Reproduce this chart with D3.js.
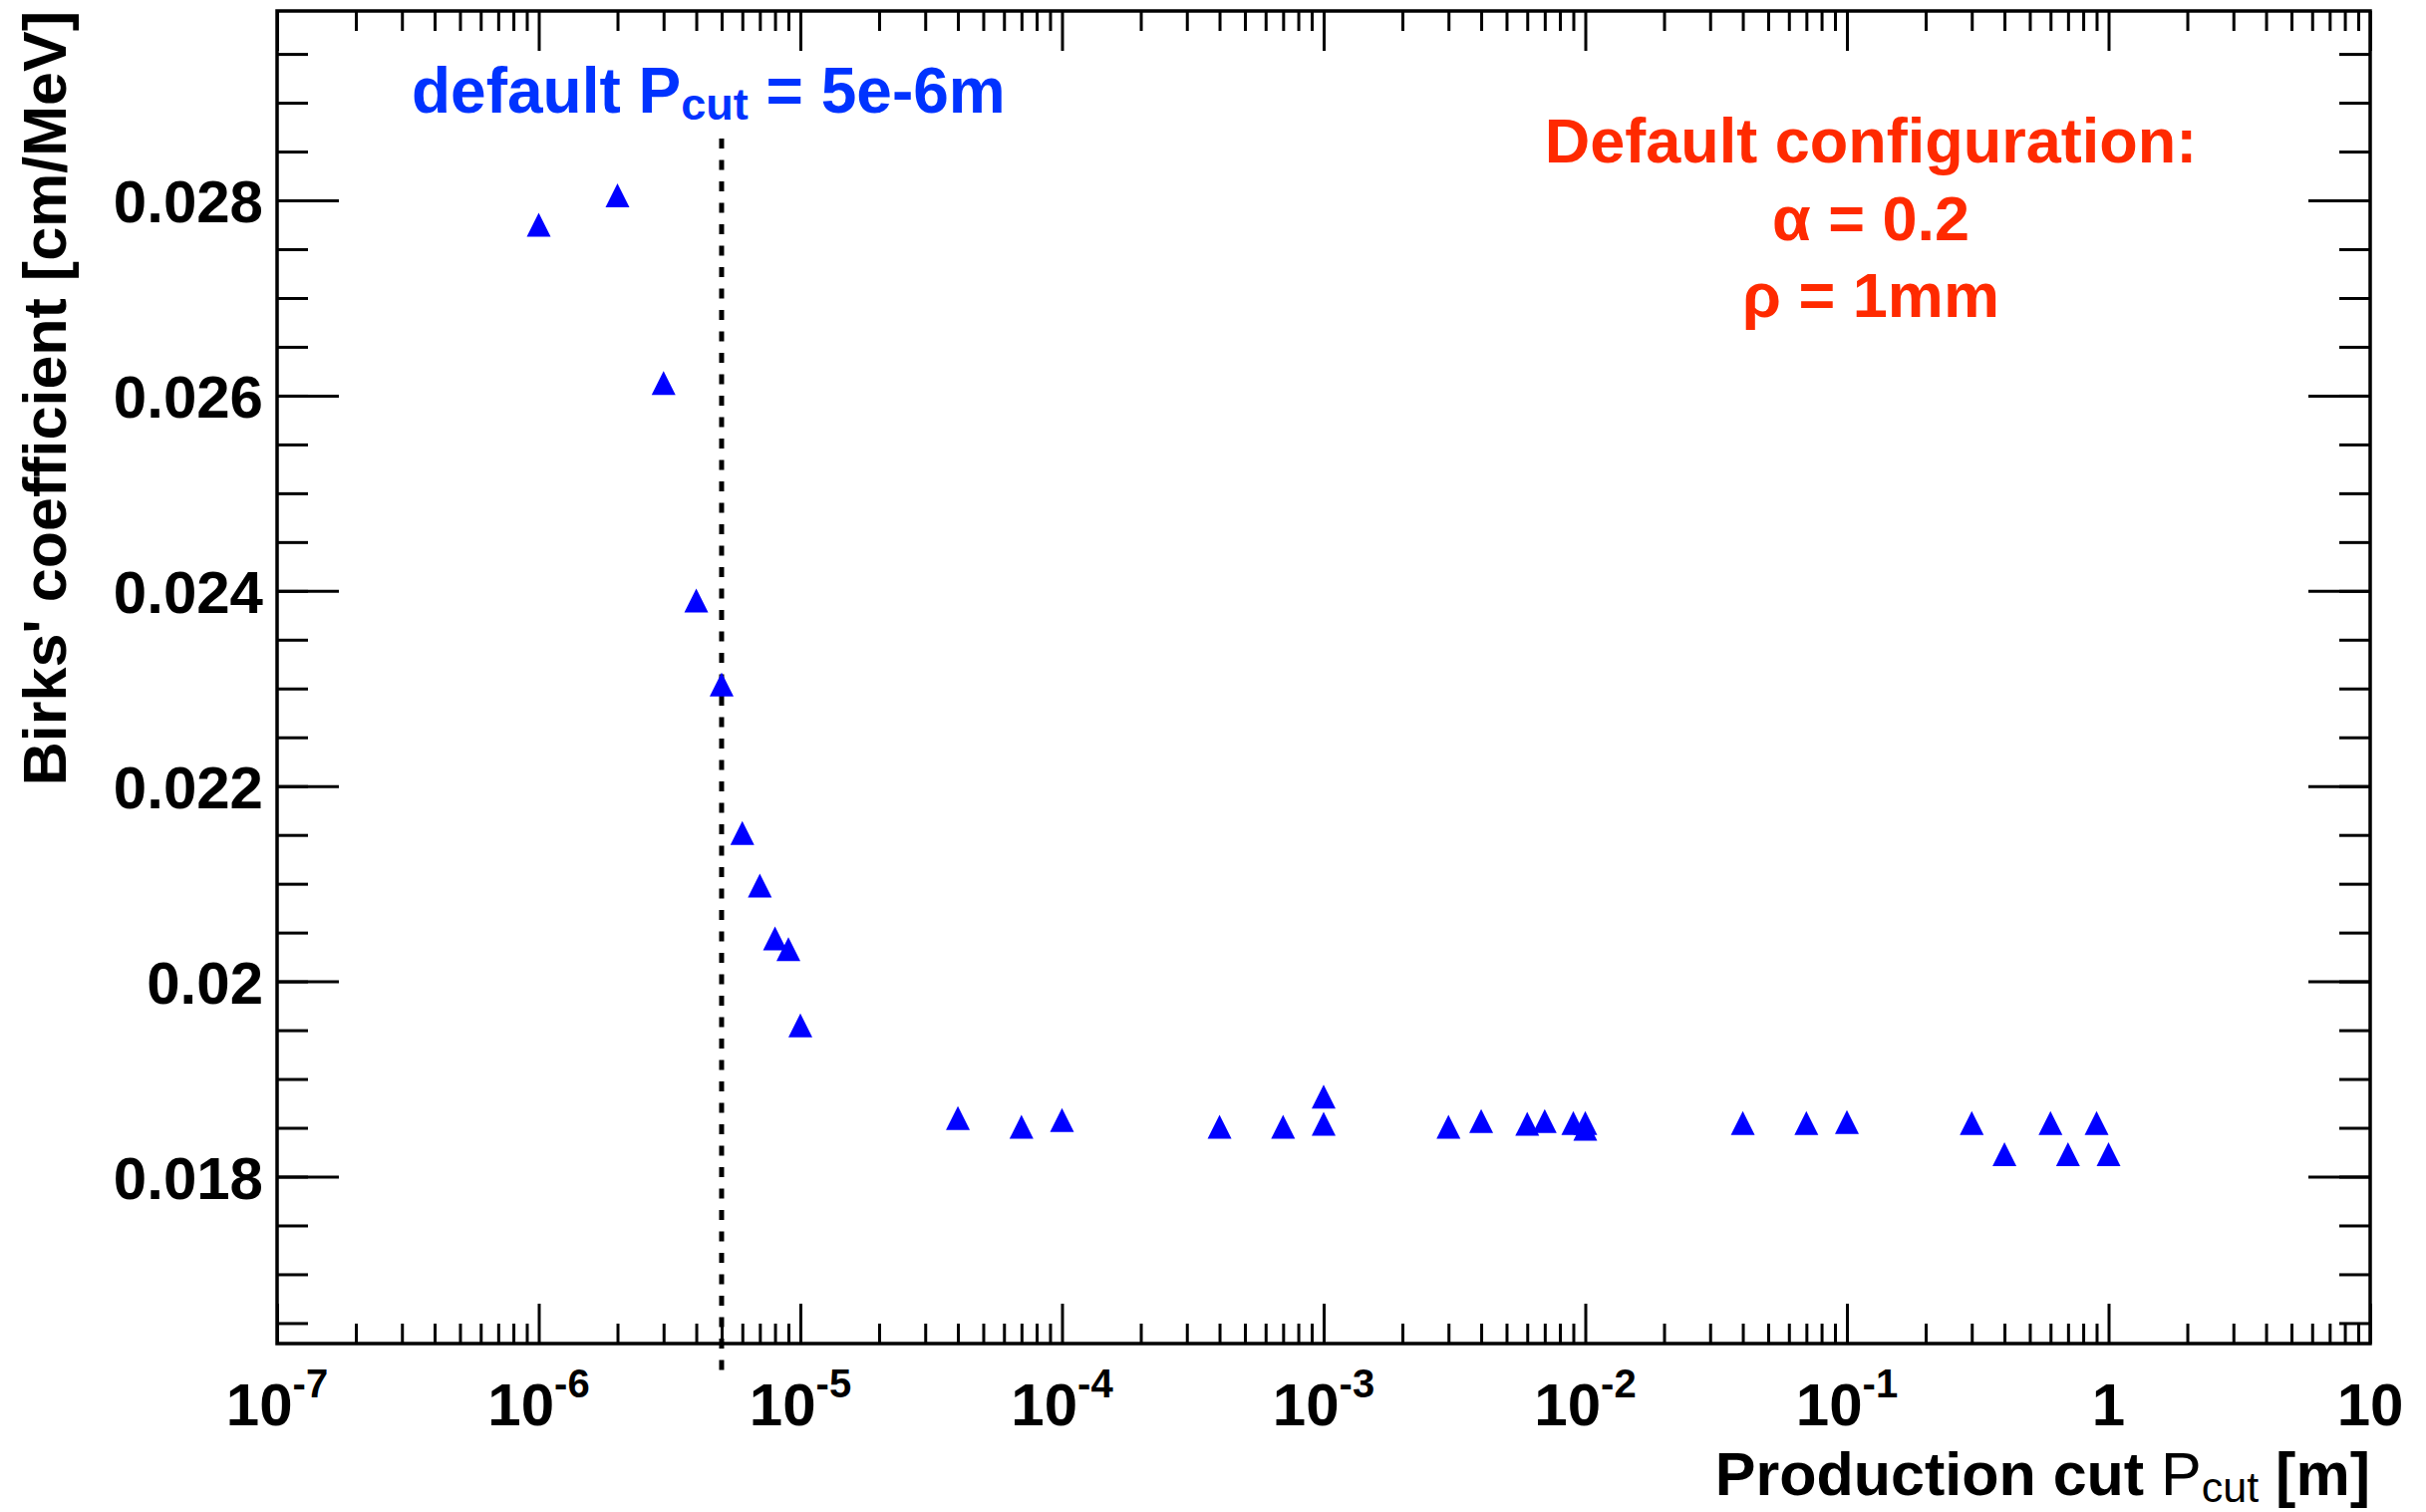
<!DOCTYPE html>
<html>
<head>
<meta charset="utf-8">
<script src="https://cdn.jsdelivr.net/npm/d3@7"></script>
<style>
  html, body { margin: 0; padding: 0; background: #fff; }
  svg text { font-family: "Liberation Sans", Arial, Helvetica, sans-serif; }
</style>
</head>
<body>
<div id="chart"></div>
<script>
const WIDTH = 2434;
const HEIGHT = 1517;

// frame of the pad
const LEFT = 278, RIGHT = 2378, TOP = 11, BOTTOM = 1348;

// data: production cut [m] vs Birks' coefficient [cm/MeV]
const cutValues = [
  1e-6, 2e-6, 3e-6, 4e-6, 5e-6, 6e-6, 7e-6, 8e-6, 9e-6, 1e-5,
  4e-5, 7e-5, 1e-4, 4e-4, 7e-4, 1e-3, 1e-3,
  3e-3, 4e-3, 6e-3, 7e-3, 9e-3, 1e-2, 1e-2,
  4e-2, 7e-2, 1e-1, 3e-1, 4e-1, 6e-1, 7e-1, 9e-1, 1
];
const birksValues = [
  0.02775, 0.02805, 0.02613, 0.02390, 0.02304, 0.02152, 0.02098, 0.02044, 0.02033, 0.01955,
  0.01860, 0.01851, 0.01858, 0.01851, 0.01851, 0.01882, 0.01854,
  0.01851, 0.01857, 0.01854, 0.01857, 0.01855, 0.01855, 0.01849,
  0.01855, 0.01855, 0.01856, 0.01855, 0.01823, 0.01855, 0.01823, 0.01855, 0.01823
];

const DEFAULT_CUT = 5e-6;

// axes
const XDOMAIN = [1e-7, 10];
const YDOMAIN = [0.01629, 0.02994];

const xMajorTicks = [1e-7, 1e-6, 1e-5, 1e-4, 1e-3, 1e-2, 1e-1, 1, 10];
const xTickBase   = ["10", "10", "10", "10", "10", "10", "10", "1", "10"];
const xTickExp    = ["-7", "-6", "-5", "-4", "-3", "-2", "-1", "", ""];

const yMajorTicks = [0.018, 0.020, 0.022, 0.024, 0.026, 0.028];
const yTickLabels = ["0.018", "0.02", "0.022", "0.024", "0.026", "0.028"];

const configLines = ["Default configuration:", "\u03b1 = 0.2", "\u03c1 = 1mm"];

const xMinorTicks = [];
for (let d = -7; d <= 0; d++) {
  for (let k = 2; k <= 9; k++) xMinorTicks.push(k * Math.pow(10, d));
}
const yMinorTicks = d3.range(33, 60).map(i => i * 0.0005);

const svg = d3.select("#chart").append("svg")
  .attr("width", WIDTH)
  .attr("height", HEIGHT);

svg.append("rect")
  .attr("width", WIDTH)
  .attr("height", HEIGHT)
  .attr("fill", "#fff");

const x = d3.scaleLog().domain(XDOMAIN).range([LEFT, RIGHT]);
const y = d3.scaleLinear().domain(YDOMAIN).range([BOTTOM, TOP]);

function ticks(axis, values, size, tx, ty) {
  svg.append("g")
    .attr("transform", "translate(" + tx + "," + ty + ")")
    .call(axis.tickValues(values).tickSizeInner(size).tickSizeOuter(0).tickFormat(""))
    .call(g => g.select(".domain").remove())
    .call(g => g.selectAll("line").attr("stroke", "#000").attr("stroke-width", 3));
}

// ticks on all four sides, pointing inside
ticks(d3.axisBottom(x), xMinorTicks, -20, 0, BOTTOM);
ticks(d3.axisBottom(x), xMajorTicks, -40, 0, BOTTOM);
ticks(d3.axisTop(x), xMinorTicks, -20, 0, TOP);
ticks(d3.axisTop(x), xMajorTicks, -40, 0, TOP);
ticks(d3.axisLeft(y), yMinorTicks, -31, LEFT, 0);
ticks(d3.axisLeft(y), yMajorTicks, -62, LEFT, 0);
ticks(d3.axisRight(y), yMinorTicks, -31, RIGHT, 0);
ticks(d3.axisRight(y), yMajorTicks, -62, RIGHT, 0);

// frame
svg.append("rect")
  .attr("x", LEFT)
  .attr("y", TOP)
  .attr("width", RIGHT - LEFT)
  .attr("height", BOTTOM - TOP)
  .attr("fill", "none")
  .attr("stroke", "#000")
  .attr("stroke-width", 3.5);

// x tick labels 10^n
const xl = svg.append("g").selectAll("text")
  .data(xMajorTicks)
  .join("text")
  .attr("x", d => x(d))
  .attr("y", 1430)
  .attr("text-anchor", "middle")
  .style("font-size", "60px")
  .style("font-weight", "bold");
xl.append("tspan").text((d, i) => xTickBase[i]);
xl.append("tspan")
  .attr("dy", -28)
  .style("font-size", "40px")
  .text((d, i) => xTickExp[i]);

// y tick labels
svg.append("g").selectAll("text")
  .data(yMajorTicks)
  .join("text")
  .attr("x", 264)
  .attr("y", d => y(d) + 22)
  .attr("text-anchor", "end")
  .style("font-size", "60px")
  .style("font-weight", "bold")
  .text((d, i) => yTickLabels[i]);

// axis titles
const xt = svg.append("text")
  .attr("x", RIGHT)
  .attr("y", 1500)
  .attr("text-anchor", "end")
  .style("font-size", "61px")
  .style("font-weight", "bold");
xt.append("tspan").text("Production cut ");
xt.append("tspan").style("font-weight", "normal").text("P");
xt.append("tspan").attr("dy", 7).style("font-weight", "normal").style("font-size", "43px").text("cut");
xt.append("tspan").attr("dy", -7).text(" [m]");

svg.append("text")
  .attr("transform", "translate(66," + TOP + ") rotate(-90)")
  .attr("text-anchor", "end")
  .style("font-size", "61px")
  .style("font-weight", "bold")
  .text("Birks' coefficient [cm/MeV]");

// default cut marker
svg.append("line")
  .attr("x1", x(DEFAULT_CUT))
  .attr("x2", x(DEFAULT_CUT))
  .attr("y1", 139)
  .attr("y2", 1380)
  .attr("stroke", "#000")
  .attr("stroke-width", 5)
  .attr("stroke-dasharray", "10,11.5");

const dt = svg.append("text")
  .attr("x", 413)
  .attr("y", 113)
  .attr("fill", "#0033ff")
  .style("font-size", "64px")
  .style("font-weight", "bold");
dt.append("tspan").text("default P");
dt.append("tspan").attr("dy", 7).style("font-size", "45px").text("cut");
dt.append("tspan").attr("dy", -7).text(" = 5e-6m");

// configuration box text
svg.append("g").selectAll("text")
  .data(configLines)
  .join("text")
  .attr("x", 1877)
  .attr("y", (d, i) => 163 + i * 77.5)
  .attr("text-anchor", "middle")
  .attr("fill", "#ff2a00")
  .style("font-size", "63px")
  .style("font-weight", "bold")
  .text(d => d);

// points: full triangles
const points = cutValues.map((c, i) => ({ cut: c, k: birksValues[i] }));
svg.append("g").selectAll("path")
  .data(points)
  .join("path")
  .attr("transform", d => "translate(" + x(d.cut) + "," + y(d.k) + ")")
  .attr("d", "M-12,12L12,12L0,-12Z")
  .attr("fill", "#0000ff");
</script>
</body>
</html>
